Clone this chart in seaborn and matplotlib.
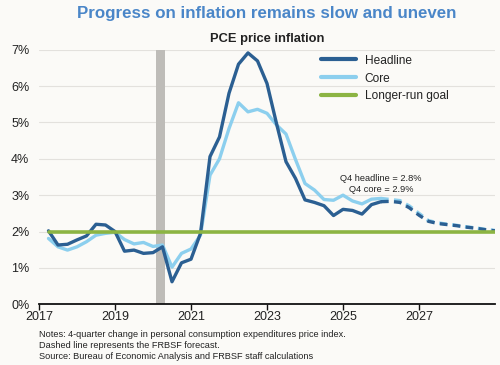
import numpy as np
import pandas as pd
import matplotlib
matplotlib.use("Agg")
import matplotlib.pyplot as plt
import seaborn as sns

# ---------------- data ----------------
# quarterly, Q1 2017 .. Q4 2025 (plotted at end of quarter)
hist_quarters = [f"{y}Q{q}" for y in range(2017, 2026) for q in range(1, 5)]
headline = [2.02, 1.63, 1.65, 1.77, 1.88, 2.20, 2.18, 2.00,
            1.46, 1.49, 1.40, 1.42, 1.58, 0.62, 1.14, 1.24,
            1.95, 4.06, 4.60, 5.80, 6.60, 6.91, 6.69, 6.07,
            4.97, 3.92, 3.46, 2.87, 2.80, 2.71, 2.44, 2.61,
            2.58, 2.48, 2.74, 2.82]
core = [1.81, 1.58, 1.49, 1.58, 1.72, 1.90, 1.95, 1.98,
        1.78, 1.66, 1.70, 1.59, 1.63, 1.02, 1.40, 1.52,
        1.90, 3.55, 4.00, 4.83, 5.54, 5.29, 5.36, 5.25,
        4.93, 4.68, 3.98, 3.32, 3.14, 2.88, 2.86, 3.00,
        2.84, 2.76, 2.89, 2.91]
# forecast, Q4 2025 .. Q4 2028
fc_quarters = ["2025Q4"] + [f"{y}Q{q}" for y in range(2026, 2029) for q in range(1, 5)]
headline_fc = [2.82, 2.83, 2.80, 2.65, 2.45, 2.28, 2.22, 2.19, 2.16, 2.12, 2.09, 2.05, 2.02]
core_fc = [2.91, 2.88, 2.85, 2.70, 2.50, 2.30, 2.24, 2.20, 2.17, 2.13, 2.10, 2.06, 2.03]
goal_value = 2.0
goal_span = ["2017Q1", "2028Q4"]
recession = (2020.09, 2020.31)
x_ticks = [2017, 2019, 2021, 2023, 2025, 2027]
y_ticks = [0, 1, 2, 3, 4, 5, 6, 7]

def qpos(q):
    y, n = q.split("Q")
    return int(y) + int(n) / 4.0

hist = pd.DataFrame({"t": [qpos(q) for q in hist_quarters], "Headline": headline, "Core": core})
fc = pd.DataFrame({"t": [qpos(q) for q in fc_quarters], "Headline": headline_fc, "Core": core_fc})
goal = pd.DataFrame({"t": [qpos(q) for q in goal_span], "v": [goal_value, goal_value]})

# ---------------- style ----------------
sns.set_theme(style="white")
plt.rcParams["font.family"] = ["Liberation Sans", "DejaVu Sans"]
BG = "#fbfaf7"
DARK = "#2b5f92"
LIGHT = "#8ccfee"
GREEN = "#8cb443"
GRID = "#e3e1dd"
TXT = "#222222"

fig = plt.figure(figsize=(5.0, 3.65), dpi=100, facecolor=BG)
ax = fig.add_axes([0.078, 0.1663, 0.912, 0.6977])
ax.set_facecolor(BG)

ax.axvspan(recession[0], recession[1], color="#bebcb8", zorder=1, lw=0)

for yv in y_ticks[1:]:
    ax.axhline(yv, color=GRID, lw=0.8, zorder=0)

lw = 2.4
dash = (0, (2.3, 1.6))
sns.lineplot(data=fc, x="t", y="Core", ax=ax, color=LIGHT, lw=lw, zorder=3, linestyle=dash)
sns.lineplot(data=hist, x="t", y="Core", ax=ax, color=LIGHT, lw=lw, zorder=3, label="Core")
sns.lineplot(data=fc, x="t", y="Headline", ax=ax, color=DARK, lw=lw, zorder=4, linestyle=dash)
sns.lineplot(data=hist, x="t", y="Headline", ax=ax, color=DARK, lw=lw, zorder=4, label="Headline")
sns.lineplot(data=goal, x="t", y="v", ax=ax, color=GREEN, lw=lw + 0.2, zorder=5,
             label="Longer-run goal")

ax.set_xlim(2017, 2029)
ax.set_ylim(0, 7)
ax.set_xticks(x_ticks)
ax.set_xticklabels([str(x) for x in x_ticks])
ax.set_yticks(y_ticks)
ax.set_yticklabels([f"{v}%" for v in y_ticks])
ax.set_xlabel("")
ax.set_ylabel("")
for s in ["left", "right", "top"]:
    ax.spines[s].set_visible(False)
ax.spines["bottom"].set_color("#111111")
ax.spines["bottom"].set_linewidth(1.3)
ax.spines["bottom"].set_zorder(6)
ax.tick_params(axis="x", bottom=True, length=4, width=1, color="#111111",
               labelsize=9, labelcolor=TXT, pad=1)
ax.tick_params(axis="y", left=False, length=0, labelsize=9, labelcolor=TXT, pad=7)

# legend in desired order
handles, labels = ax.get_legend_handles_labels()
order = [labels.index(n) for n in ["Headline", "Core", "Longer-run goal"]]
leg = ax.legend([handles[i] for i in order], [labels[i] for i in order],
                loc="upper left", bbox_to_anchor=(0.595, 1.023), frameon=False,
                fontsize=8.6, handlelength=2.9, handletextpad=0.75, labelspacing=0.5)
for t in leg.get_texts():
    t.set_color(TXT)
for h in leg.get_lines():
    h.set_linewidth(3)
    h.set_linestyle("-")

ax.text(0.75, 0.495, "Q4 headline = 2.8%", transform=ax.transAxes, ha="center",
        va="center", fontsize=6.7, color=TXT)
ax.text(0.75, 0.452, "Q4 core = 2.9%", transform=ax.transAxes, ha="center",
        va="center", fontsize=6.7, color=TXT)

fig.text(0.534, 0.962, "Progress on inflation remains slow and uneven", ha="center",
         va="center", fontsize=12.2, fontweight="bold", color="#4a86c8")
fig.text(0.534, 0.893, "PCE price inflation", ha="center", va="center",
         fontsize=9.3, fontweight="bold", color=TXT)

notes = ("Notes: 4-quarter change in personal consumption expenditures price index.\n"
         "Dashed line represents the FRBSF forecast.\n"
         "Source: Bureau of Economic Analysis and FRBSF staff calculations")
fig.text(0.078, 0.097, notes, ha="left", va="top", fontsize=6.6, color=TXT,
         linespacing=1.3)

fig.savefig("out.png", dpi=100, facecolor=BG)
